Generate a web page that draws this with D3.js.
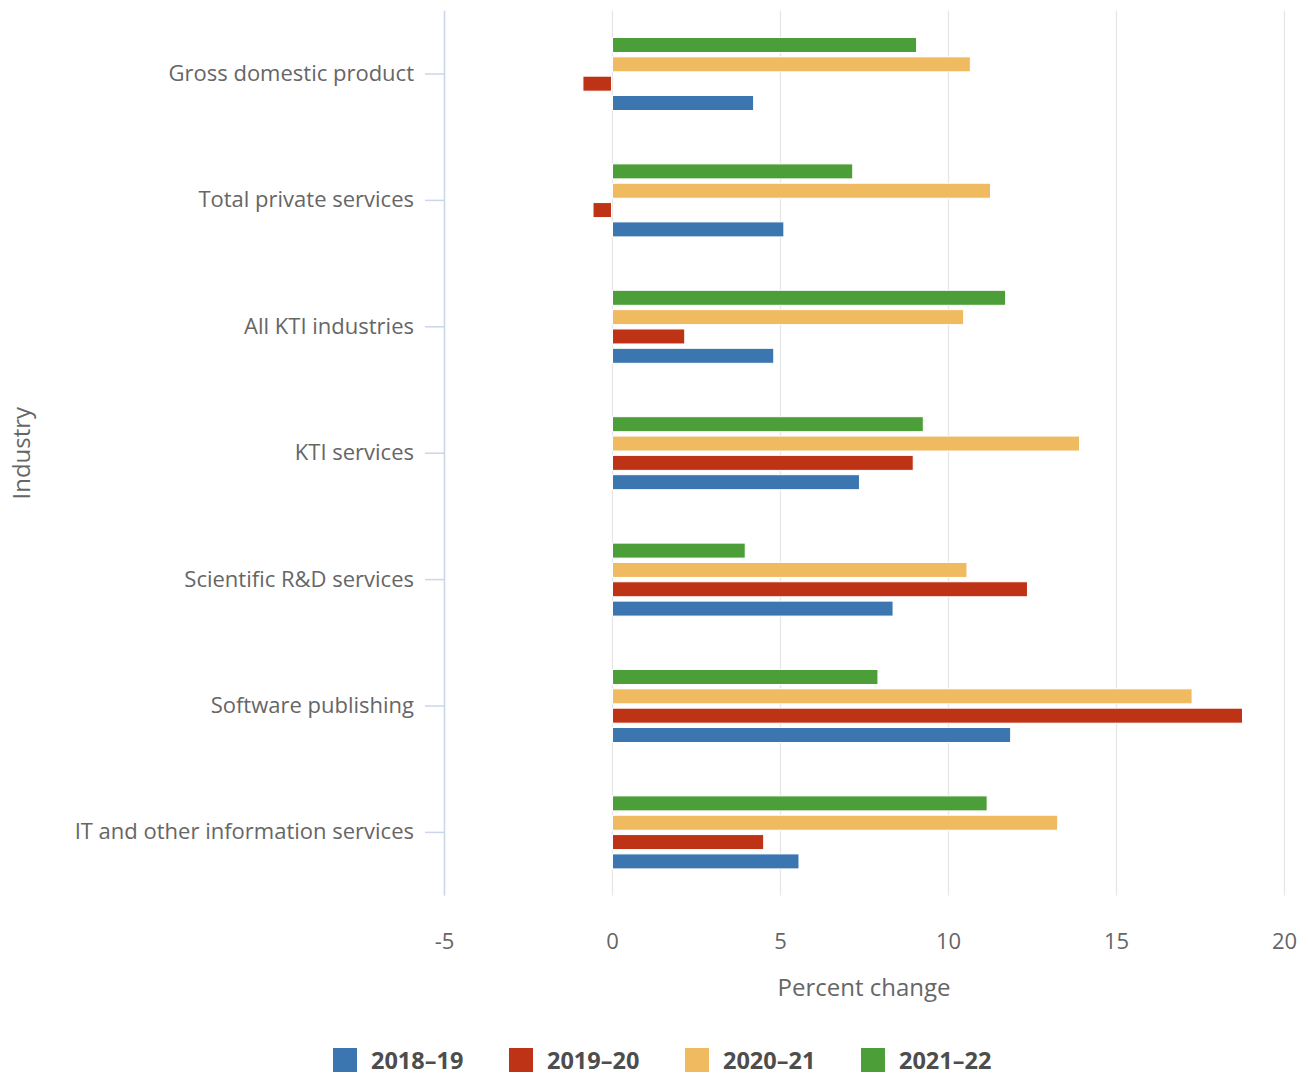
<!DOCTYPE html>
<html>
<head>
<meta charset="utf-8">
<script src="https://cdn.jsdelivr.net/npm/d3@7"></script>
<style>
  html, body { margin: 0; padding: 0; background: #fff; }
  text { font-family: "Open Sans", sans-serif; }
</style>
</head>
<body>
<svg id="chart" width="1308" height="1076"></svg>
<script>
const categories = [
  "Gross domestic product",
  "Total private services",
  "All KTI industries",
  "KTI services",
  "Scientific R&D services",
  "Software publishing",
  "IT and other information services"
];
const seriesNames = ["2018–19", "2019–20", "2020–21", "2021–22"];
const seriesColors = ["#3b76b0", "#be3215", "#f0ba60", "#4c9e38"];
const values2018_19 = [4.2, 5.1, 4.8, 7.35, 8.35, 11.85, 5.55];
const values2019_20 = [-0.85, -0.55, 2.15, 8.95, 12.35, 18.75, 4.5];
const values2020_21 = [10.65, 11.25, 10.45, 13.9, 10.55, 17.25, 13.25];
const values2021_22 = [9.05, 7.15, 11.7, 9.25, 3.95, 7.9, 11.15];
const seriesValues = [values2018_19, values2019_20, values2020_21, values2021_22];
const xTicks = [-5, 0, 5, 10, 15, 20];

const svg = d3.select("#chart");
const plot = { left: 444, right: 1284, top: 10.8, bottom: 895.6 };

const x = d3.scaleLinear().domain([-5, 20]).range([plot.left, plot.right]);
const y = d3.scaleBand().domain(categories).range([plot.top, plot.bottom]).padding(0);
// bars drawn top-to-bottom: 2021-22, 2020-21, 2019-20, 2018-19
const order = [3, 2, 1, 0];
const inner = d3.scaleBand().domain(order).paddingInner(0.276).paddingOuter(0);

// gridlines
svg.append("g").selectAll("line").data(xTicks).join("line")
  .attr("x1", d => x(d) + 0.5).attr("x2", d => x(d) + 0.5)
  .attr("y1", plot.top).attr("y2", plot.bottom)
  .attr("stroke", "#e6e6e6").attr("stroke-width", 1.3);

// bars
const groups = svg.append("g").selectAll("g").data(categories).join("g");
groups.each(function(cat, ci) {
  const c = y(cat) + y.bandwidth() / 2;
  inner.range([c - 36, c + 36]);
  d3.select(this).selectAll("rect").data(order).join("rect")
    .attr("x", s => { const v = seriesValues[s][ci]; return v >= 0 ? x(0) + 0.5 : x(v) - 0.5; })
    .attr("width", s => Math.abs(x(seriesValues[s][ci]) - x(0)))
    .attr("y", s => inner(s) - 0.5)
    .attr("height", inner.bandwidth() + 1)
    .attr("fill", s => seriesColors[s])
    .attr("stroke", "#fff").attr("stroke-width", 1);
});

// y axis
const yAxis = d3.axisLeft(y).tickSize(19).tickPadding(11);
const gy = svg.append("g").attr("transform", `translate(${plot.left},0)`).call(yAxis);
gy.select(".domain").attr("stroke", "#ccd6eb").attr("stroke-width", 1.5)
  .attr("d", `M0.5,${plot.top}V${plot.bottom}`);
gy.selectAll(".tick line").attr("stroke", "#ccd6eb").attr("stroke-width", 1.5);
gy.selectAll(".tick text").attr("fill", "#666666").attr("font-size", 22)
  .attr("font-family", "'Open Sans', sans-serif");

// x axis labels
const xAxis = d3.axisBottom(x).tickValues(xTicks).tickSize(0).tickPadding(37.5)
  .tickFormat(d => String(d));
const gx = svg.append("g").attr("transform", `translate(0,${plot.bottom})`).call(xAxis);
gx.select(".domain").remove();
gx.selectAll(".tick text").attr("fill", "#666666").attr("font-size", 22)
  .attr("font-family", "'Open Sans', sans-serif");

// axis titles
svg.append("text").attr("x", (plot.left + plot.right) / 2).attr("y", 996)
  .attr("text-anchor", "middle").attr("fill", "#666666").attr("font-size", 24)
  .text("Percent change");
svg.append("text")
  .attr("transform", `translate(30,${(plot.top + plot.bottom) / 2}) rotate(-90)`)
  .attr("text-anchor", "middle").attr("fill", "#666666").attr("font-size", 24)
  .text("Industry");

// legend
const legend = svg.append("g").selectAll("g").data(seriesNames).join("g")
  .attr("transform", (d, i) => `translate(${333 + i * 176},1048)`);
legend.append("rect").attr("width", 24).attr("height", 24)
  .attr("fill", (d, i) => seriesColors[i]);
legend.append("text").attr("x", 38).attr("y", 21)
  .attr("font-size", 23.5).attr("font-weight", "bold").attr("fill", "#4d4d4d")
  .text(d => d);
</script>
</body>
</html>
